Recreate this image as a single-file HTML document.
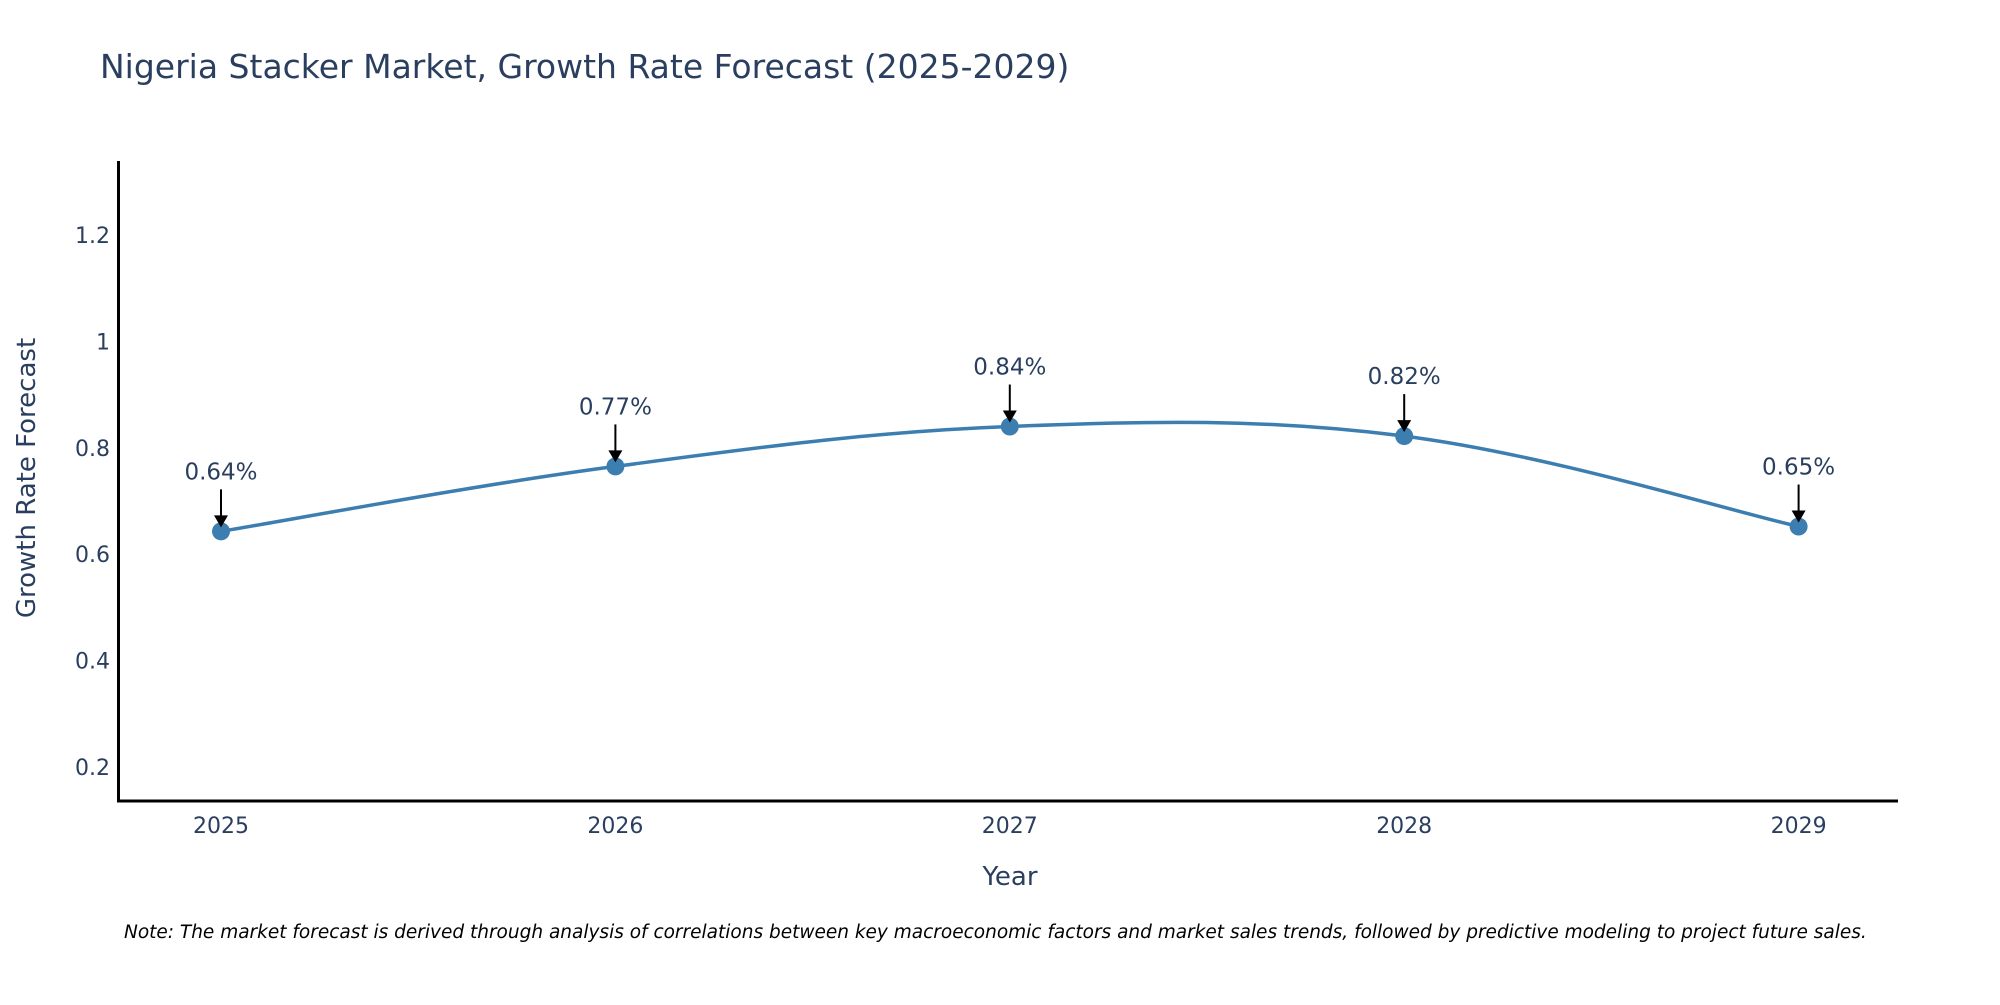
<!DOCTYPE html>
<html><head><meta charset="utf-8"><style>
body{margin:0;background:#fff}
text{font-family:"DejaVu Sans","Liberation Sans",sans-serif;fill:#2a3f5f}
</style></head><body>
<svg id="chart" width="2000" height="1000" xmlns="http://www.w3.org/2000/svg">
<text x="100" y="78" font-size="33">Nigeria Stacker Market, Growth Rate Forecast (2025-2029)</text>
<g id="yticks"></g>
<g id="xticks"></g>
<path id="line" fill="none" stroke="#3d7eb0" stroke-width="3.5"/>
<g id="pts"></g>
<g id="ann"></g>
<line x1="118.5" y1="161" x2="118.5" y2="802" stroke="#000" stroke-width="3"/>
<line x1="117" y1="801" x2="1898" y2="801" stroke="#000" stroke-width="3"/>
<text x="26" y="478" font-size="26" text-anchor="middle" transform="rotate(-90 26 478)" dy="9">Growth Rate Forecast</text>
<text x="1010" y="885" font-size="26" text-anchor="middle">Year</text>
<text x="124" y="938" font-size="18.5" font-style="italic" style="fill:#000">Note: The market forecast is derived through analysis of correlations between key macroeconomic factors and market sales trends, followed by predictive modeling to project future sales.</text>
</svg>
<script>
const years=[2025,2026,2027,2028,2029];
const rates=[0.643,0.765,0.840,0.822,0.652];
const labels=["0.64%","0.77%","0.84%","0.82%","0.65%"];
const yTicks=[0.2,0.4,0.6,0.8,1,1.2];
const NS="http://www.w3.org/2000/svg";
const xs=v=>221+(v-2025)*394.4;
const ys=v=>767-(v-0.2)*532;
function mk(t,a,p){const e=document.createElementNS(NS,t);for(const k in a)e.setAttribute(k,a[k]);p.appendChild(e);return e;}
const yt=document.getElementById('yticks');
yTicks.forEach(v=>{const t=mk('text',{x:110,y:ys(v)+8,'font-size':22,'text-anchor':'end'},yt);


t.textContent=String(v);});
const xt=document.getElementById('xticks');
years.forEach(v=>{const t=mk('text',{x:xs(v),y:833,'font-size':22,'text-anchor':'middle'},xt);


t.textContent=String(v);});
const P=years.map((y,i)=>[xs(y),ys(rates[i])]);
let d=`M${P[0][0]},${P[0][1]}`;const s=0.18;
for(let i=0;i<P.length-1;i++){const p0=P[Math.max(i-1,0)],p1=P[i],p2=P[i+1],p3=P[Math.min(i+2,P.length-1)];
const c1=[p1[0]+(p2[0]-p0[0])*s,p1[1]+(p2[1]-p0[1])*s],c2=[p2[0]-(p3[0]-p1[0])*s,p2[1]-(p3[1]-p1[1])*s];
d+=` C${c1[0]},${c1[1]} ${c2[0]},${c2[1]} ${p2[0]},${p2[1]}`;}
document.getElementById('line').setAttribute('d',d);
const pts=document.getElementById('pts'),ann=document.getElementById('ann');
P.forEach((p,i)=>{const c=mk('circle',{cx:p[0],cy:p[1],r:9,fill:'#3d7eb0'},pts);


const l=mk('line',{x1:p[0],y1:p[1]-42,x2:p[0],y2:p[1]-14,stroke:'#000','stroke-width':2},ann);


const h=mk('path',{d:`M${p[0]-7},${p[1]-16} L${p[0]+7},${p[1]-16} L${p[0]},${p[1]-4} Z`,fill:'#000'},ann);


const t=mk('text',{x:p[0],y:p[1]-52,'font-size':23,'text-anchor':'middle'},ann);


t.textContent=labels[i];});
</script>
</body></html>
